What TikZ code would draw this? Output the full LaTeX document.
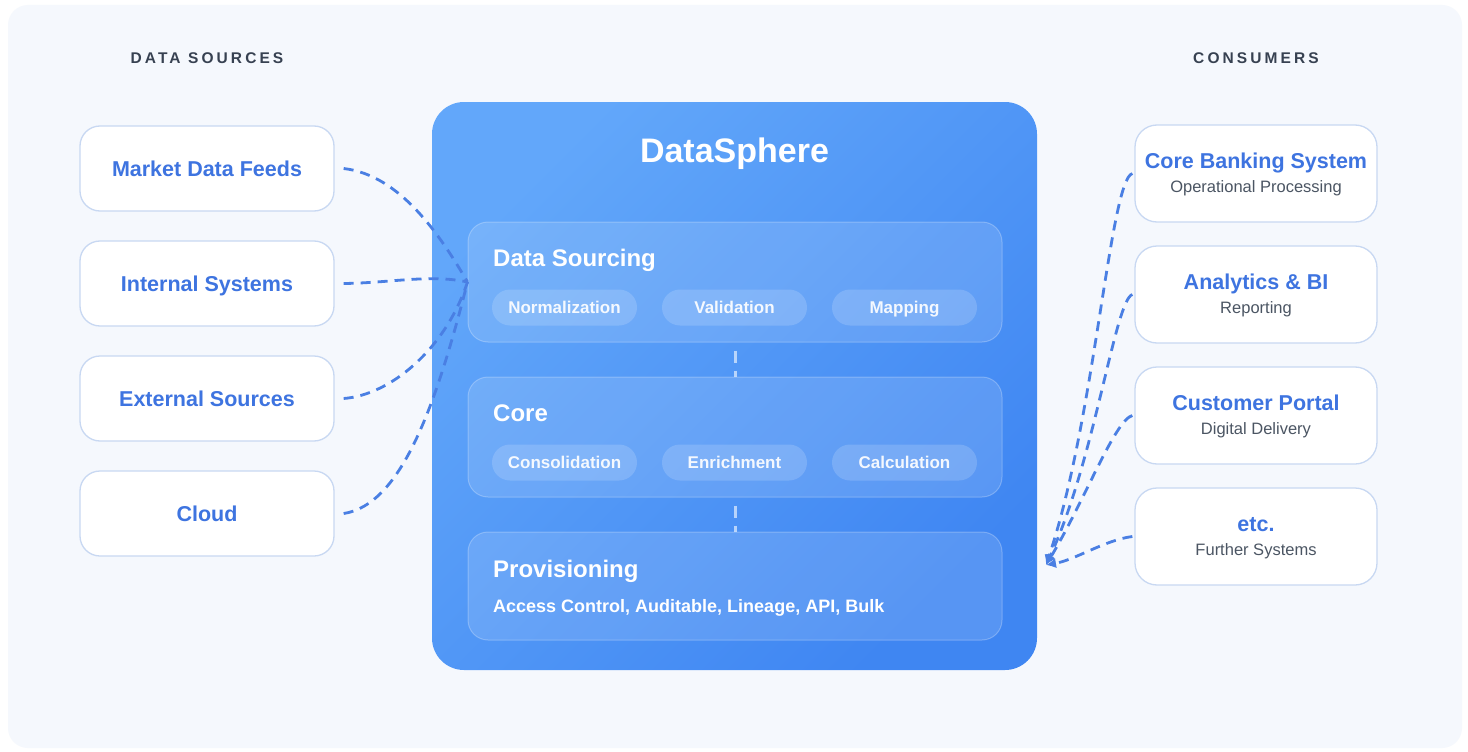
\documentclass[tikz,border=0pt]{standalone}
\usepackage{fontspec}
\setmainfont{Liberation Sans}
\usetikzlibrary{positioning,arrows.meta}

\definecolor{pagebg}{HTML}{F5F8FD}
\definecolor{boxline}{HTML}{C8D8F2}
\definecolor{labelblue}{HTML}{3E74E0}
\definecolor{headgray}{HTML}{374151}
\definecolor{subgray}{HTML}{4B5563}
\definecolor{spheretop}{HTML}{62A7FA}
\definecolor{spherebot}{HTML}{3F86F2}
\definecolor{flowblue}{HTML}{4A7FE3}

\tikzset{
  header/.style={anchor=base, text=headgray, font=\fontsize{15.5}{18}\selectfont\bfseries\addfontfeatures{LetterSpace=20}},
  source/.style={draw=boxline, line width=1.3pt, fill=white, rounded corners=20pt, minimum width=254pt, minimum height=85pt, text=labelblue, text height=15.5pt, text depth=0pt, font=\fontsize{21.5}{24}\selectfont\bfseries},
  consumer/.style={draw=boxline, line width=1.3pt, fill=white, rounded corners=22pt, minimum width=242pt, minimum height=97pt},
  ctitle/.style={anchor=base, text=labelblue, font=\fontsize{21.5}{24}\selectfont\bfseries},
  csub/.style={anchor=base, text=subgray, font=\fontsize{16.5}{19}\selectfont},
  hubbox/.style={rounded corners=32pt, minimum width=605pt, minimum height=568pt, top color=spheretop, bottom color=spherebot, shading angle=45},
  hubtitle/.style={anchor=base, text=white, font=\fontsize{34}{38}\selectfont\bfseries},
  panel/.style={fill=white, fill opacity=0.13, draw=white, draw opacity=0.25, line width=1pt, rounded corners=20pt, minimum width=534pt},
  pill/.style={fill=white, fill opacity=0.16, text=white, text opacity=0.92, rounded corners=18pt, minimum width=145pt, minimum height=36pt, text height=12.2pt, text depth=0pt, font=\fontsize{17}{20}\selectfont\bfseries},
  ptitle/.style={anchor=base west, inner sep=0pt, text=white, font=\fontsize{24}{28}\selectfont\bfseries},
  plist/.style={anchor=base west, inner sep=0pt, text=white, font=\fontsize{18}{21}\selectfont\bfseries},
  link/.style={draw=white, draw opacity=0.6, line width=3pt, dash pattern=on 12pt off 8pt, dash phase=12pt},
  flow/.style={draw=flowblue, line width=2.8pt, dash pattern=on 10pt off 7pt},
}

\begin{document}
\begin{tikzpicture}[x=1pt,y=-1pt]
  \useasboundingbox (0,0) rectangle (1468,752);
  \fill[white] (0,0) rectangle (1468,752);
  \fill[pagebg, rounded corners=20pt] (8,5) rectangle (1462,748);

  % column headers
  \node[header] (srcH) at (207,64) {DATA SOURCES};
  \node[header] (conH) at (1256,64) {CONSUMERS};

  % central platform
  \node[hubbox] (sphere) at (734.5,386) {};
  \node[hubtitle] (sphereT) at (734.5,162) {DataSphere};

  \node[panel, minimum height=120pt] (sourcing) at (735,282) {};
  \node[ptitle] (sourcingT) at (493,266) {Data Sourcing};
  \node[pill] (norm) at (564.5,307.5) {Normalization};
  \node[pill] (valid) at (734.5,307.5) {Validation};
  \node[pill] (mapp) at (904.5,307.5) {Mapping};

  \node[panel, minimum height=120pt] (core) at (735,437) {};
  \node[ptitle] (coreT) at (493,421) {Core};
  \node[pill] (consol) at (564.5,462.5) {Consolidation};
  \node[pill] (enrich) at (734.5,462.5) {Enrichment};
  \node[pill] (calc) at (904.5,462.5) {Calculation};

  \node[panel, minimum height=108pt] (prov) at (735,586) {};
  \node[ptitle] (provT) at (493,577) {Provisioning};
  \node[plist] (provL) at (493,612) {Access Control, Auditable, Lineage, API, Bulk};

  \draw[link] (sourcing.south) -- (core.north);
  \draw[link] (core.south) -- (prov.north);

  % data sources
  \node[source] (mdf) at (207,168.5) {Market Data Feeds};
  \node[source] (ins) at (207,283.5) {Internal Systems};
  \node[source] (exs) at (207,398.5) {External Sources};
  \node[source] (cld) at (207,513.5) {Cloud};

  % consumers
  \node[consumer] (cbs) at (1256,173.5) {};
  \node[ctitle] (cbsT) at (1256,168) {Core Banking System};
  \node[csub] (cbsS) at (1256,192.5) {Operational Processing};
  \node[consumer] (abi) at (1256,294.5) {};
  \node[ctitle] (abiT) at (1256,289) {Analytics \& BI};
  \node[csub] (abiS) at (1256,313.5) {Reporting};
  \node[consumer] (cpo) at (1256,415.5) {};
  \node[ctitle] (cpoT) at (1256,410) {Customer Portal};
  \node[csub] (cpoS) at (1256,434.5) {Digital Delivery};
  \node[consumer] (etc) at (1256,536.5) {};
  \node[ctitle] (etcT) at (1256,531) {etc.};
  \node[csub] (etcS) at (1256,555.5) {Further Systems};

  \coordinate (inlet) at (1046,565);

  % feeds into sourcing
  \draw[flow] ([xshift=9pt]mdf.east) .. controls (400,175) and (440,235) .. (sourcing.west);
  \draw[flow] ([xshift=9pt]ins.east) .. controls (390,283) and (430,274) .. (sourcing.west);
  \draw[flow] ([xshift=9pt]exs.east) .. controls (390,395) and (445,350) .. (sourcing.west);
  \draw[flow] ([xshift=9pt]cld.east) .. controls (400,505) and (435,410) .. (sourcing.west);

  % consumers back to provisioning
  \draw[flow,->,>={Latex[length=10pt,width=10pt]}] ([xshift=-2pt]cbs.west) .. controls (1110,180) and (1095,420) .. (inlet);
  \draw[flow,->,>={Latex[length=10pt,width=10pt]}] ([xshift=-2pt]abi.west) .. controls (1115,300) and (1095,460) .. (inlet);
  \draw[flow,->,>={Latex[length=10pt,width=10pt]}] ([xshift=-2pt]cpo.west) .. controls (1115,420) and (1085,500) .. (inlet);
  \draw[flow,->,>={Latex[length=10pt,width=10pt]}] ([xshift=-2pt]etc.west) .. controls (1105,540) and (1075,560) .. (inlet);
\end{tikzpicture}
\end{document}
